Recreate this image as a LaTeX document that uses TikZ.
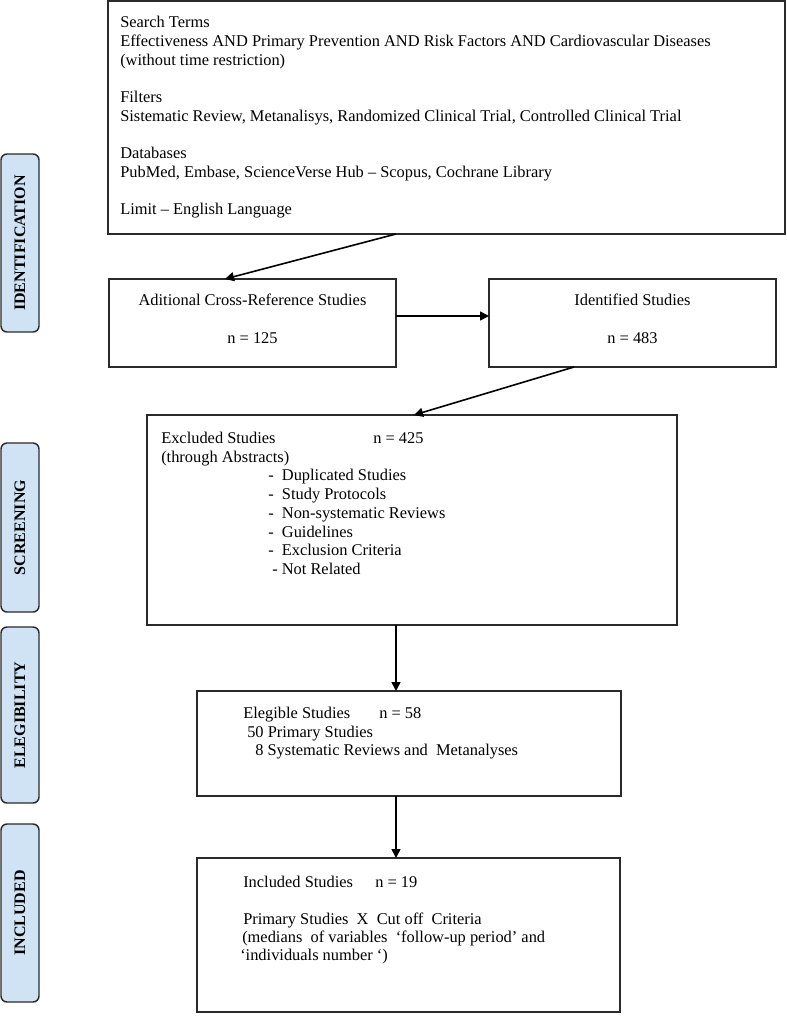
\documentclass[tikz,border=0pt]{standalone}
\usepackage{fontspec}
\setmainfont{Liberation Serif}
\usetikzlibrary{fit,arrows.meta,calc}
\definecolor{sidefill}{HTML}{CFE3F4}
\definecolor{edge}{HTML}{2A2A2A}
\begin{document}
\begin{tikzpicture}[x=0.75pt,y=-0.75pt,
  box/.style={draw=edge, line width=1.1pt, inner sep=0pt, outer sep=0pt, rectangle},
  side/.style={draw=edge, fill=sidefill, line width=1.1pt, rounded corners=4.5pt, inner sep=0pt, outer sep=0pt},
  txt/.style={inner sep=0pt, anchor=base west, font=\fontsize{12.3pt}{14pt}\selectfont},
  ctxt/.style={inner sep=0pt, anchor=base, font=\fontsize{12.3pt}{14pt}\selectfont},
  lab/.style={rotate=90, inner sep=0pt, font=\bfseries\fontsize{12pt}{14pt}\selectfont},
  arr/.style={draw=black, line width=1.2pt, -{Triangle[length=6.75pt,width=6.75pt]}}]
\useasboundingbox (0,0) rectangle (787,1019);

% side labels
\node[side, fit={(1,154)(39,332)}] (sid) {};
\node[lab] (sidt) at (sid.center) {IDENTIFICATION};
\node[side, fit={(1,443)(39,612)}] (ssc) {};
\node[lab] (ssct) at (ssc.center) {SCREENING};
\node[side, fit={(1,627)(39,803)}] (sel) {};
\node[lab] (selt) at (sel.center) {ELEGIBILITY};
\node[side, fit={(1,824)(39,1002)}] (sin) {};
\node[lab] (sint) at (sin.center) {INCLUDED};

% boxes
\node[box, fit={(108,1)(785,234)}] (top) {};
\node[box, fit={(109,279)(396,367)}] (add) {};
\node[box, fit={(489,279)(776,367)}] (ident) {};
\node[box, fit={(147,415)(677,625)}] (excl) {};
\node[box, fit={(197,691)(621,796)}] (elig) {};
\node[box, fit={(197,858)(620,1012)}] (incl) {};

% top box text
\node[txt] (s1) at (120,28) {Search Terms};
\node[txt] (s2) at (120,47) {Effectiveness AND Primary Prevention AND Risk Factors AND Cardiovascular Diseases};
\node[txt] (s3) at (120,66) {(without time restriction)};
\node[txt] (f1) at (120,103) {Filters};
\node[txt] (f2) at (120,122) {Sistematic Review, Metanalisys, Randomized Clinical Trial, Controlled Clinical Trial};
\node[txt] (d1) at (120,159) {Databases};
\node[txt] (d2) at (120,178) {PubMed, Embase, ScienceVerse Hub – Scopus, Cochrane Library};
\node[txt] (l1) at (120,215) {Limit – English Language};

% additional / identified
\node[ctxt] (a1) at (252.5,306) {Aditional Cross-Reference Studies};
\node[ctxt] (a2) at (252.5,344) {n = 125};
\node[ctxt] (i1) at (632.5,306) {Identified Studies};
\node[ctxt] (i2) at (632.5,344) {n = 483};

% excluded
\node[txt] (e1) at (161,443) {Excluded Studies};
\node[txt] (e1n) at (373,443) {n = 425};
\node[txt] (e2) at (161,462) {(through Abstracts)};
\node[txt] (e3) at (268,480) {-\ \ Duplicated Studies};
\node[txt] (e4) at (268,499) {-\ \ Study Protocols};
\node[txt] (e5) at (268,518) {-\ \ Non-systematic Reviews};
\node[txt] (e6) at (268,537) {-\ \ Guidelines};
\node[txt] (e7) at (268,555) {-\ \ Exclusion Criteria};
\node[txt] (e8) at (272,574) {- Not Related};

% elegible
\node[txt] (g1) at (243,718) {Elegible Studies};
\node[txt] (g1n) at (379,718) {n = 58};
\node[txt] (g2) at (247,737) {50 Primary Studies};
\node[txt] (g3) at (255,755) {8 Systematic Reviews and\ \ Metanalyses};

% included
\node[txt] (n1) at (243,887) {Included Studies};
\node[txt] (n1n) at (375,887) {n = 19};
\node[txt] (n2) at (243,924) {Primary Studies\ \ X\ \ Cut off\ \ Criteria};
\node[txt] (n3) at (242,942) {(medians\ \ of variables\ \ ‘follow-up period’ and};
\node[txt] (n4) at (240,960) {‘individuals number ‘)};

% connectors
\draw[arr] ($(top.south west)+(288,0)$) -- ($(add.north west)+(116,0)$);
\draw[arr] ($(add.east)+(0,-7)$) -- ($(ident.west)+(0,-7)$);
\draw[arr] ($(ident.south west)+(85,0)$) -- ($(excl.north west)+(267,0)$);
\draw[arr] ($(excl.south west)+(249,0)$) -- ($(elig.north west)+(199,0)$);
\draw[arr] ($(elig.south west)+(199,0)$) -- ($(incl.north west)+(199,0)$);
\end{tikzpicture}
\end{document}
